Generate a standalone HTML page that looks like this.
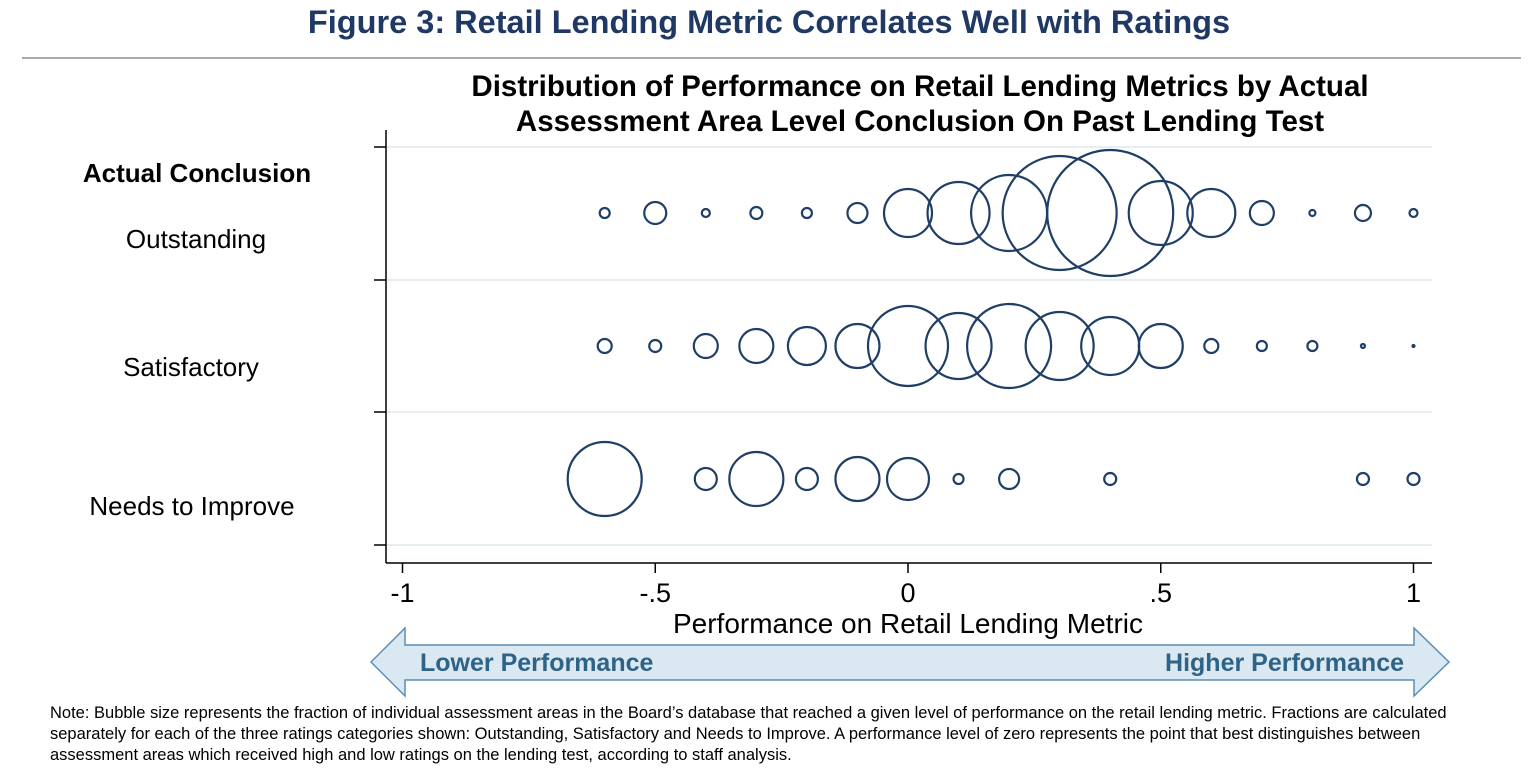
<!DOCTYPE html>
<html><head><meta charset="utf-8"><style>
body{margin:0;background:#fff;width:1539px;height:768px;overflow:hidden;font-family:"Liberation Sans",sans-serif}
</style></head><body>
<svg width="1539" height="768">
<text x="769" y="33" text-anchor="middle" font-size="32.5" font-weight="bold" fill="#1f3864">Figure 3: Retail Lending Metric Correlates Well with Ratings</text>
<line x1="22" y1="58" x2="1521" y2="58" stroke="#555" stroke-width="1"/>
<text x="920" y="96" text-anchor="middle" font-size="29.5" font-weight="bold" fill="#000">Distribution of Performance on Retail Lending Metrics by Actual</text>
<text x="920" y="131" text-anchor="middle" font-size="29.5" font-weight="bold" fill="#000">Assessment Area Level Conclusion On Past Lending Test</text>
<text x="197" y="182" text-anchor="middle" font-size="26" font-weight="bold">Actual Conclusion</text>
<g id="grid"></g>
<g id="bubbles"></g>
<g id="axes"></g>
<text x="908" y="633" text-anchor="middle" font-size="28">Performance on Retail Lending Metric</text>
<path d="M371,662 L405,628 L405,645 L1414,645 L1414,628 L1449,662 L1414,696 L1414,680 L405,680 L405,696 Z" fill="#d9e8f1" stroke="#5b8db8" stroke-width="1.5"/>
<text x="420" y="671" font-size="25" font-weight="bold" fill="#2e6286">Lower Performance</text>
<text x="1404" y="671" text-anchor="end" font-size="25" font-weight="bold" fill="#2e6286">Higher Performance</text>
<g font-size="16.5" fill="#000">
<text x="50" y="718">Note: Bubble size represents the fraction of individual assessment areas in the Board’s database that reached a given level of performance on the retail lending metric.  Fractions are calculated</text>
<text x="50" y="739">separately for each of the three ratings categories shown: Outstanding, Satisfactory and Needs to Improve.  A performance level of zero represents the point that best distinguishes between</text>
<text x="50" y="760">assessment areas which received high and low ratings on the lending test, according to staff analysis.</text>
</g>
</svg>
<script>
const categories=["Outstanding","Satisfactory","Needs to Improve"];
const xTicks=[-1,-0.5,0,0.5,1];
const xTickLabels=["-1","-.5","0",".5","1"];
const outstandingX=[-0.6,-0.5,-0.4,-0.3,-0.2,-0.1,0,0.1,0.2,0.3,0.4,0.5,0.6,0.7,0.8,0.9,1];
const outstandingR=[5,11,4,6,5,10,24,31,38,57,63,32,24,12,3,8,4];
const satisfactoryX=[-0.6,-0.5,-0.4,-0.3,-0.2,-0.1,0,0.1,0.2,0.3,0.4,0.5,0.6,0.7,0.8,0.9,1];
const satisfactoryR=[7,6,12,17,19,22,40,33,42,34,29,22,7,5,5,2,1];
const needsX=[-0.6,-0.4,-0.3,-0.2,-0.1,0,0.1,0.2,0.4,0.9,1];
const needsR=[37,11,27,11,22,21,5,10,6,6,6];
const NS="http://www.w3.org/2000/svg";
const xs=v=>908+v*505.5;
const rowY=i=>213+i*133;
function mk(t,a,p){const e=document.createElementNS(NS,t);for(const k in a)e.setAttribute(k,a[k]);p.appendChild(e);return e;}
const grid=document.getElementById('grid'),bub=document.getElementById('bubbles'),ax=document.getElementById('axes');
[147,280,412,545].forEach(y=>{const l=mk('line',{x1:386,x2:1432,y1:y,y2:y,stroke:'#e6eef2','stroke-width':2},grid);


const t=mk('line',{x1:374,x2:386,y1:y,y2:y,stroke:'#000','stroke-width':1.5},ax);

});
mk('line',{x1:386,x2:386,y1:130,y2:563,stroke:'#000','stroke-width':1.5},ax);
mk('line',{x1:386,x2:1432,y1:563,y2:563,stroke:'#000','stroke-width':1.5},ax);
const labX=[196,191,192];
categories.forEach((c,i)=>{const t=mk('text',{x:labX[i],y:[248,376,515][i],'text-anchor':'middle','font-size':26},ax);t.textContent=c;

});
xTicks.forEach((v,i)=>{const l=mk('line',{x1:xs(v),x2:xs(v),y1:563,y2:573,stroke:'#000','stroke-width':1.5},ax);


const t=mk('text',{x:xs(v),y:602,'text-anchor':'middle','font-size':27},ax);t.textContent=xTickLabels[i];

});
[[outstandingX,outstandingR],[satisfactoryX,satisfactoryR],[needsX,needsR]].forEach((s,i)=>{
s[0].forEach((x,j)=>{const c=mk('circle',{cx:xs(x),cy:rowY(i),r:s[1][j],fill:'none',stroke:'#1f3f66','stroke-width':2.2},bub);

});});
</script>
</body></html>
